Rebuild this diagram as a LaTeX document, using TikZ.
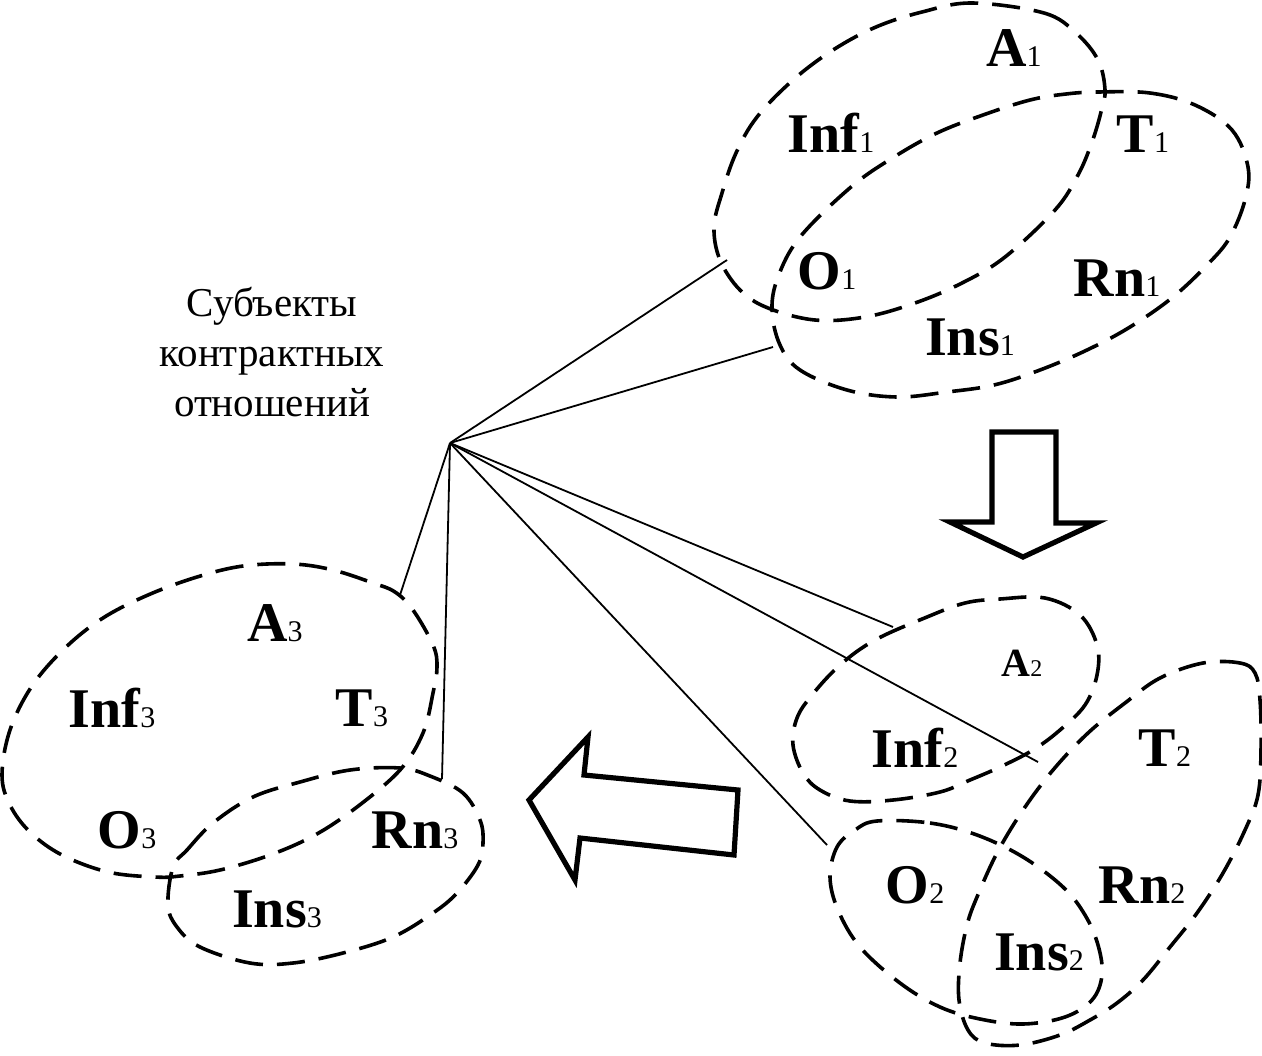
\documentclass[tikz,border=0pt]{standalone}
\usepackage{fontspec}
\setmainfont{Liberation Serif}
\newcommand{\mylab}[2]{{\fontsize{28}{30}\selectfont\bfseries #1}{\fontsize{15}{15}\selectfont #2}}
\newcommand{\mysmlab}[2]{{\fontsize{20}{21}\selectfont\bfseries #1}{\fontsize{12}{12}\selectfont #2}}
\begin{document}
\begin{tikzpicture}[x=0.5pt,y=-0.5pt,
  dashline/.style={line width=1.8pt, dash pattern=on 14pt off 7pt},
  conn/.style={line width=0.9pt},
  bigarrow/.style={line width=2.6pt, line join=miter, fill=white},
  lbl/.style={inner sep=0pt, anchor=center},
  caption/.style={align=center, font=\fontsize{20.5}{25}\selectfont}]
\useasboundingbox (0,0) rectangle (1262,1055);

% ---- group 1 ----
\draw[dashline] plot[smooth cycle, tension=0.6] coordinates {
 (972,3) (1044,13) (1076,33) (1098,60) (1105,90) (1101,112) (1092,142)
 (1078,175) (1055,210) (1005,257) (962,283) (915,303) (865,317) (815,320)
 (768,308) (740,290) (720,260) (714,227) (722,193) (736,153) (757,117)
 (793,80) (833,50) (876,27) (922,12)};
\draw[dashline] plot[smooth cycle, tension=0.6] coordinates {
 (1098,92) (1150,93) (1195,105) (1232,130) (1248,167) (1245,200) (1230,237)
 (1209,263) (1173,297) (1130,327) (1087,350) (1040,370) (994,385) (947,392)
 (897,397) (847,390) (800,370) (780,345) (772,310) (778,277) (800,237)
 (851,187) (894,157) (937,133) (983,115) (1030,100) (1066,94)};

% ---- group 3 ----
\draw[dashline] plot[smooth cycle, tension=0.6] coordinates {
 (293,564) (243,566) (197,577) (148,595) (103,618) (65,648) (32,686)
 (10,730) (2,775) (10,805) (30,832) (62,855) (108,872) (155,877) (180,876)
 (220,870) (270,855) (315,835) (357,807) (400,770) (423,733) (433,693)
 (437,667) (433,645) (413,610) (395,592) (373,583) (333,570)};
\draw[dashline] plot[smooth cycle, tension=0.6] coordinates {
 (173,867) (187,850) (213,823) (253,797) (300,782) (350,770) (400,768)
 (430,776) (463,793) (480,820) (483,843) (478,865) (457,893) (433,913)
 (393,937) (343,953) (293,963) (250,963) (200,947) (177,927) (168,905)};

% ---- group 2 ----
\draw[dashline] plot[smooth cycle, tension=0.6] coordinates {
 (1000,599) (1045,598) (1080,615) (1097,645) (1097,675) (1085,705)
 (1060,730) (1033,750) (1000,767) (970,780) (940,792) (893,800) (850,801)
 (820,790) (803,773) (793,745) (797,718) (812,695) (840,665) (875,640)
 (927,617) (965,603)};
\draw[dashline] plot[smooth cycle, tension=0.6] coordinates {
 (1203,663) (1240,663) (1255,673) (1260,700) (1261,750) (1258,795)
 (1245,830) (1223,873) (1197,913) (1170,947) (1143,980) (1117,1003)
 (1090,1020) (1060,1035) (1020,1045) (985,1043) (968,1030) (959,1000)
 (960,963) (967,925) (977,897) (997,853) (1023,810) (1053,770) (1088,733)
 (1125,703) (1160,678)};
\draw[dashline] plot[smooth cycle, tension=0.6] coordinates {
 (877,821) (930,823) (977,835) (1023,857) (1063,887) (1085,915) (1098,945)
 (1102,975) (1092,1000) (1065,1017) (1023,1024) (980,1019) (940,1007)
 (900,983) (860,947) (838,910) (830,877) (837,847) (855,830)};

% ---- labels ----
\node[lbl] (A1) at (1014,48) {\mylab{A}{1}};
\node[lbl] (Inf1) at (831,133) {\mylab{Inf}{1}};
\node[lbl] (T1) at (1143,134) {\mylab{T}{1}};
\node[lbl] (O1) at (827,271) {\mylab{O}{1}};
\node[lbl] (Rn1) at (1117,278) {\mylab{Rn}{1}};
\node[lbl] (Ins1) at (970,337) {\mylab{Ins}{1}};

\node[lbl] (A3) at (275,623) {\mylab{A}{3}};
\node[lbl] (Inf3) at (112,708) {\mylab{Inf}{3}};
\node[lbl] (T3) at (362,708) {\mylab{T}{3}};
\node[lbl] (O3) at (127,830) {\mylab{O}{3}};
\node[lbl] (Rn3) at (415,830) {\mylab{Rn}{3}};
\node[lbl] (Ins3) at (277,909) {\mylab{Ins}{3}};

\node[lbl] (A2) at (1022,663) {\mysmlab{A}{2}};
\node[lbl] (Inf2) at (915,748) {\mylab{Inf}{2}};
\node[lbl] (T2) at (1165,748) {\mylab{T}{2}};
\node[lbl] (O2) at (915,885) {\mylab{O}{2}};
\node[lbl] (Rn2) at (1142,885) {\mylab{Rn}{2}};
\node[lbl] (Ins2) at (1039,952) {\mylab{Ins}{2}};

\node[caption] (cap) at (272,352) {Субъекты\\контрактных\\отношений};

% ---- connectors ----
\coordinate (hub) at (450,443);
\coordinate (e1) at (727,260);
\coordinate (e2) at (773,347);
\coordinate (e3) at (400,595);
\coordinate (e4) at (442,779);
\coordinate (e5) at (893,627);
\coordinate (e6) at (1038,762);
\coordinate (e7) at (827,845);
\foreach \e in {e1,e2,e3,e4,e5,e6,e7} \draw[conn] (hub) -- (\e);

% ---- arrows ----
\draw[bigarrow] (992,432) -- (1056,432) -- (1056,523) -- (1096,523)
  -- (1023,557) -- (950,522) -- (992,522) -- cycle;
\draw[bigarrow] (529,800) -- (588,737) -- (584,775) -- (738,790)
  -- (734,855) -- (580,838) -- (575,880) -- cycle;
\end{tikzpicture}
\end{document}
